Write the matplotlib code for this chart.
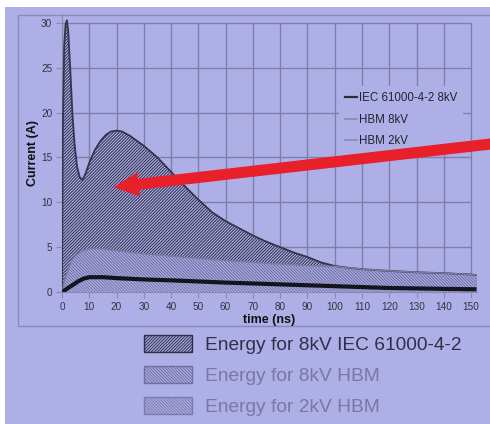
#!/usr/bin/env python3
"""
ESD pulse comparison: IEC 61000-4-2 8kV vs HBM 8kV / 2kV current waveforms,
with the area under each curve hatched as "energy".
"""

import matplotlib
matplotlib.use('Agg')
import matplotlib.pyplot as plt
from matplotlib.lines import Line2D
from matplotlib.patches import Patch, Rectangle, FancyArrowPatch, ArrowStyle

BG = '#afafe8'
GRID = '#7e7eaa'

# IEC 61000-4-2 8kV waveform (ns, A)
iec_t = [0, 0.3, 0.8, 1.3, 1.8, 2.3, 3.0, 3.8, 4.6, 5.5, 6.5, 7.5, 8.5, 10, 12, 14,
         16, 18, 20, 22, 25, 30, 35, 40, 45, 50, 55, 60, 65, 70, 75, 80, 85, 90,
         95, 100, 105, 110, 120, 130, 140, 150, 152]
iec_i = [0, 18, 27.5, 29.8, 30.3, 29.0, 25.0, 20.0, 16.5, 14.0, 12.8, 12.5, 13.1,
         14.4, 15.8, 16.8, 17.5, 17.9, 18.0, 17.9, 17.4, 16.3, 15.0, 13.4, 11.8,
         10.3, 8.9, 7.9, 7.1, 6.3, 5.6, 5.0, 4.4, 3.9, 3.3, 2.9, 2.7, 2.55, 2.35,
         2.2, 2.1, 1.95, 1.9]

# HBM 8kV waveform
hbm8_t = [0, 1, 2, 3, 4, 5, 7, 9, 12, 15, 20, 30, 40, 50, 60, 70, 80, 90, 100,
          110, 120, 130, 140, 150, 152]
hbm8_i = [0, 1.3, 2.3, 3.1, 3.7, 4.1, 4.5, 4.75, 4.85, 4.8, 4.6, 4.25, 4.0, 3.75,
          3.5, 3.3, 3.1, 2.95, 2.85, 2.55, 2.35, 2.2, 2.1, 1.95, 1.9]

# HBM 2kV waveform
hbm2_t = [0, 2, 4, 6, 8, 10, 15, 20, 30, 40, 60, 80, 100, 120, 140, 152]
hbm2_i = [0, 0.4, 0.8, 1.2, 1.5, 1.65, 1.65, 1.55, 1.4, 1.3, 1.05, 0.85, 0.65,
          0.45, 0.35, 0.3]

line_labels = ['IEC 61000-4-2 8kV', 'HBM 8kV', 'HBM 2kV']
energy_labels = ['Energy for 8kV IEC 61000-4-2', 'Energy for 8kV HBM',
                 'Energy for 2kV HBM']
x_ticks = list(range(0, 151, 10))
y_ticks = list(range(0, 31, 5))

W, H = 490, 424

HATCH_IEC = '/' * 11
HATCH_HBM = '\\' * 11


def main():
    plt.rcParams['font.family'] = ['Liberation Sans', 'DejaVu Sans']
    plt.rcParams['hatch.linewidth'] = 0.7

    fig = plt.figure(figsize=(W / 100, H / 100), dpi=100, facecolor='white')

    # lavender slide background and the chart frame
    fig.patches.append(Rectangle((5 / W, 0), 1, 1 - 7 / H, transform=fig.transFigure,
                                 facecolor=BG, edgecolor='none', zorder=-2))
    fig.patches.append(Rectangle((18 / W, 1 - 326 / H), 1, (326 - 15) / H,
                                 transform=fig.transFigure, facecolor='none',
                                 edgecolor='#8a8ab4', linewidth=1, zorder=-1))

    ax = fig.add_axes([62 / W, 1 - 292 / H, (476.5 - 62) / W, 278 / H])
    ax.set_facecolor('none')
    ax.set_xlim(0, 152)
    ax.set_ylim(0, 31)

    # grid only inside 0..150 / 0..30
    ax.hlines(y_ticks, 0, 150, color=GRID, linewidth=1, zorder=1)
    ax.vlines(x_ticks, 0, 30, color=GRID, linewidth=1, zorder=1)

    # energy areas, stacked
    ax.fill_between(iec_t, 0, iec_i, facecolor=BG, edgecolor='#2c2c46',
                    hatch=HATCH_IEC, linewidth=0, zorder=2)
    ax.fill_between(hbm8_t, 0, hbm8_i, facecolor=BG, edgecolor='#6a6a9c',
                    hatch=HATCH_HBM, linewidth=0, zorder=3)
    ax.fill_between(hbm2_t, 0, hbm2_i, facecolor=BG, edgecolor='#7474a6',
                    hatch=HATCH_HBM, linewidth=0, zorder=3)

    # outlines
    ax.plot(iec_t, iec_i, color='#34344c', linewidth=1.3, zorder=5)
    ax.plot(hbm8_t, hbm8_i, color='#7c7ca0', linewidth=1.0, zorder=5)
    ax.plot([152, 152], [0, hbm8_i[-1]], color='#7c7ca0', linewidth=1.0, zorder=5)
    ax.plot(hbm2_t, hbm2_i, color='#14141e', linewidth=3, zorder=6,
            solid_capstyle='butt')

    for s in ['top', 'right']:
        ax.spines[s].set_visible(False)
    for s in ['left', 'bottom']:
        ax.spines[s].set_color('#8a8ab0')
        ax.spines[s].set_linewidth(0.8)

    ax.set_xticks(x_ticks)
    ax.set_yticks(y_ticks)
    ax.tick_params(axis='both', colors='#8a8ab0', labelcolor='#333340',
                   labelsize=7.2, length=4, width=0.8, pad=3)
    ax.set_xlabel('time (ns)', fontsize=9, fontweight='bold', color='#111',
                  labelpad=2)
    ax.set_ylabel('Current (A)', fontsize=9, fontweight='bold', color='#111',
                  labelpad=1.5)

    # inner legend for the curves
    handles = [Line2D([], [], color='#2a2a3a', linewidth=1.6),
               Line2D([], [], color='#8a8aa8', linewidth=1.2),
               Line2D([], [], color='#8a8aa8', linewidth=1.2)]
    leg = ax.legend(handles, line_labels, loc='upper left',
                    bbox_to_anchor=(339 / W, 1 - 86 / H),
                    bbox_transform=fig.transFigure, fontsize=8.3, frameon=True,
                    facecolor=BG, edgecolor='none', framealpha=1, fancybox=False,
                    handlelength=1.1, handletextpad=0.15, labelspacing=0.85,
                    borderpad=0.5, borderaxespad=0)
    leg.set_zorder(7)
    for t in leg.get_texts():
        t.set_color('#222230')

    # energy legend below the chart
    patches = [Patch(facecolor=BG, edgecolor='#2e2e48', hatch=HATCH_IEC, linewidth=1),
               Patch(facecolor=BG, edgecolor='#6e6ea2', hatch=HATCH_HBM, linewidth=1),
               Patch(facecolor=BG, edgecolor='#7a7aac', hatch=HATCH_HBM, linewidth=1)]
    leg2 = fig.legend(patches, energy_labels, loc='upper left',
                      bbox_to_anchor=(144 / W, 1 - 335 / H), frameon=False,
                      fontsize=13.8, handlelength=2.5, handleheight=1.0,
                      handletextpad=0.68, labelspacing=0.62, borderpad=0,
                      borderaxespad=0)
    for t, c in zip(leg2.get_texts(), ['#30304a', '#7878a2', '#7878a2']):
        t.set_color(c)

    # red pointer arrow
    arrow = FancyArrowPatch((495, H - 143.5), (111, H - 187.5),
                            transform=None,
                            arrowstyle=ArrowStyle.Simple(head_length=1.8,
                                                         head_width=1.75,
                                                         tail_width=0.8),
                            mutation_scale=10, color='#e8202a', linewidth=0,
                            zorder=10)
    fig.patches.append(arrow)

    fig.savefig('out.png', dpi=100)
    plt.close(fig)
    return 0


if __name__ == '__main__':
    exit(main())
